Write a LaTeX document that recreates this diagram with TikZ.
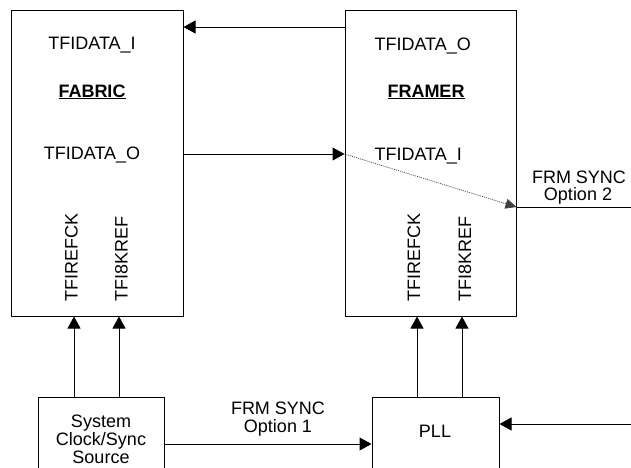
\documentclass[tikz,border=0pt]{standalone}
\usepackage{fontspec}
\setmainfont{Liberation Sans}
\usetikzlibrary{arrows.meta}
\begin{document}
\begin{tikzpicture}[x=1pt,y=-1pt,line width=1pt,
  box/.style={draw,line width=1pt,inner sep=0pt},
  lbl/.style={font=\fontsize{18}{18}\selectfont,inner sep=0pt,anchor=base},
  vlbl/.style={font=\fontsize{18}{18}\selectfont,inner sep=0pt,rotate=90,anchor=west},
  arr/.style={-{Triangle[length=12pt,width=13pt]},line width=1pt},
  dotarr/.style={-{Triangle[length=11pt,width=10pt]},line width=0.7pt,draw=black!75,dash pattern=on 1pt off 1pt}]
\useasboundingbox (0,0) rectangle (631,467);
\clip (0,0) rectangle (631,467);
% boxes
\node[box,minimum width=172pt,minimum height=306pt] (fabric) at (97,163) {};
\node[box,minimum width=171pt,minimum height=306pt] (framer) at (430.5,163) {};
\node[box,minimum width=126pt,minimum height=100pt] (sys) at (101,447) {};
\node[box,minimum width=127pt,minimum height=100pt] (pll) at (435.5,447) {};
% fabric texts
\node[lbl] (fi) at (92,49) {TFIDATA\_I};
\node[lbl] (fn) at (92,97) {\textbf{\underline{FABRIC}}};
\node[lbl] (fo) at (92,159) {TFIDATA\_O};
\node[vlbl] (fck) at (71.5,302) {TFIREFCK};
\node[vlbl] (f8k) at (121.5,302) {TFI8KREF};
% framer texts
\node[lbl,anchor=base west] (ro) at (374,50) {TFIDATA\_O};
\node[lbl] (rn) at (426,97) {\textbf{\underline{FRAMER}}};
\node[lbl,anchor=base west] (ri) at (374,160) {TFIDATA\_I};
\node[vlbl] (rck) at (414,302) {TFIREFCK};
\node[vlbl] (r8k) at (465,302) {TFI8KREF};
% bottom texts
\node[lbl] (s1) at (101,427) {System};
\node[lbl] (s2) at (101,445) {Clock/Sync};
\node[lbl] (s3) at (101,463) {Source};
\node[lbl] (pl) at (435,437) {PLL};
\node[lbl] (o1a) at (278,414) {FRM SYNC};
\node[lbl] (o1b) at (278,432) {Option 1};
\node[lbl] (o2a) at (579,183) {FRM SYNC};
\node[lbl] (o2b) at (578,200) {Option 2};
% connectors
\draw[arr] (framer.west |- 0,27) -- (fabric.east |- 0,27);
\draw[arr] (fabric.east |- 0,154) -- (framer.west |- 0,154);
\coordinate (d1) at (framer.west |- 0,154);
\coordinate (d2) at (framer.east |- 0,207);
\coordinate (out2) at (631,207);
\draw[dotarr] (d1) -- (d2);
\draw (d2) -- (out2);
\draw[arr] (sys.north -| 74,0) -- (fabric.south -| 74,0);
\draw[arr] (sys.north -| 119,0) -- (fabric.south -| 119,0);
\draw[arr] (pll.north -| 417,0) -- (framer.south -| 417,0);
\draw[arr] (pll.north -| 462,0) -- (framer.south -| 462,0);
\draw[arr] (sys.east |- 0,444) -- (pll.west |- 0,444);
\coordinate (in) at (631,424);
\draw[arr] (in) -- (pll.east |- 0,424);
\end{tikzpicture}
\end{document}
